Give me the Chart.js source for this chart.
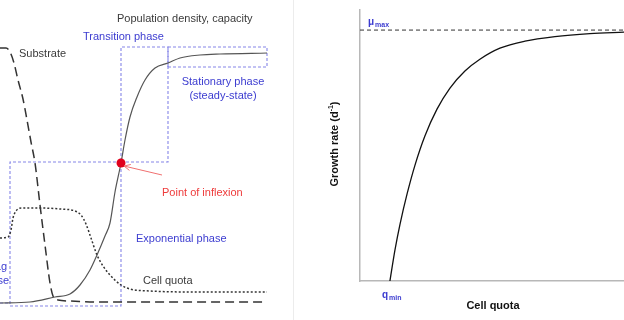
<!DOCTYPE html>
<html>
<head>
<meta charset="utf-8">
<script src="https://cdn.jsdelivr.net/npm/chart.js@4.4.1/dist/chart.umd.min.js"></script>
<style>
  html, body { margin: 0; padding: 0; background: #fff; }
  #wrap { position: relative; width: 624px; height: 320px; overflow: hidden; }
  #growthCanvas { position: absolute; left: 0; top: 0; }
  #divider { position: absolute; left: 293px; top: 0; width: 1px; height: 320px; background: #ececec; }
  #droopCanvas { position: absolute; left: 294px; top: 0; }
</style>
</head>
<body>
<div id="wrap">
  <canvas id="growthCanvas" width="293" height="320"></canvas>
  <div id="divider"></div>
  <canvas id="droopCanvas" width="330" height="320"></canvas>
</div>
<script>
// left panel: batch culture, time vs relative level
const popTime   = [0, 30, 55, 70, 80, 90, 97, 105, 110, 115, 121, 125, 130, 137, 145, 155, 168, 180, 200, 220, 267];
const popLevel  = [17, 18, 23, 26, 35, 50, 65, 84, 97, 128, 157, 180, 203, 223, 240, 252, 257, 262, 265, 266, 267];
const subTime   = [0, 6, 10, 14, 18, 23, 27, 31, 35, 40, 45, 50, 53, 58, 70, 100, 267];
const subLevel  = [272, 272, 268, 257, 240, 221, 200, 178, 157, 115, 75, 37, 24, 20, 19, 18, 18];
const quotaTime = [0, 8, 11, 13, 16, 22, 40, 60, 75, 81, 86, 91, 97, 103, 110, 121, 130, 150, 200, 267];
const quotaLevel = [82, 83, 90, 102, 109, 112, 112, 111, 109, 105, 96, 82, 65, 54, 45, 35, 31, 29, 28, 28];

// phase boxes (time range, level range)
const lagBox = { t: [-40, 10], v: [17, 17] };
const expBox = { t: [10, 121], v: [14, 158] };
const transBox = { t: [121, 168], v: [158, 273] };
const statBox = { t: [168, 267], v: [253, 273] };
const inflexion = { t: 121, v: 157 };

// right panel: Droop curve
const cellQuota  = [1.36, 1.59, 1.82, 2.14, 2.5, 2.95, 3.5, 4.09, 4.77, 5.45, 6.36, 7.5, 8.86, 10.45, 12.0];
const growthRate = [0, 0.124, 0.227, 0.347, 0.462, 0.578, 0.685, 0.769, 0.837, 0.884, 0.928, 0.956, 0.974, 0.986, 0.992];
const muMax = 1;
const qMin = 1.36;

const FONT = '"Liberation Sans", Arial, sans-serif';
const DARK = '#3a3a3a';
const BLUE = '#3c3cd0';
const BOX = '#8585e8';
const RED = '#ee3b3b';

function toXY(xs, ys) {
    return xs.map((x, i) => ({ x: x, y: ys[i] }));
}

function rect(b) {
    return toXY([b.t[0], b.t[1], b.t[1], b.t[0], b.t[0]], [b.v[0], b.v[0], b.v[1], b.v[1], b.v[0]]);
}

function boxSet(data) {
    return { data: data, showLine: true, borderColor: BOX, borderWidth: 1.1, borderDash: [3, 2], pointRadius: 0, tension: 0 };
}

const growthLabels = {
    id: 'growthLabels',
    afterDatasetsDraw(chart) {
        const { ctx, scales: { x, y } } = chart;
        const px = t => x.getPixelForValue(t);
        const py = v => y.getPixelForValue(v);
        ctx.save();
        ctx.font = '11px ' + FONT;
        ctx.textBaseline = 'middle';
        const put = (txt, t, v, color, align) => {
            ctx.fillStyle = color;
            ctx.textAlign = align || 'left';
            ctx.fillText(txt, px(t), py(v));
        };
        put('Population density, capacity', 117, 301, DARK);
        put('Transition phase', 83, 283, BLUE);
        put('Substrate', 19, 266, DARK);
        put('Stationary phase', 223, 238, BLUE, 'center');
        put('(steady-state)', 223, 224, BLUE, 'center');
        put('Point of inflexion', 162, 127, RED);
        put('Exponential phase', 136, 81, BLUE);
        put('Cell quota', 143, 39, DARK);
        put('Lag', 7, 53, BLUE, 'right');
        put('phase', 9, 39, BLUE, 'right');

        // arrow to the inflexion point
        const x0 = px(162), y0 = py(145), x1 = px(124), y1 = py(154);
        const a = Math.atan2(y1 - y0, x1 - x0);
        ctx.strokeStyle = '#f07070';
        ctx.lineWidth = 1;
        ctx.beginPath();
        ctx.moveTo(x0, y0);
        ctx.lineTo(x1, y1);
        ctx.moveTo(x1 - 7 * Math.cos(a - 0.45), y1 - 7 * Math.sin(a - 0.45));
        ctx.lineTo(x1, y1);
        ctx.lineTo(x1 - 7 * Math.cos(a + 0.45), y1 - 7 * Math.sin(a + 0.45));
        ctx.stroke();
        ctx.restore();
    }
};

new Chart(document.getElementById('growthCanvas'), {
    type: 'scatter',
    data: {
        datasets: [
            { data: [{ x: inflexion.t, y: inflexion.v }], pointRadius: 4.5, pointBackgroundColor: '#e0001c', pointBorderWidth: 0 },
            { data: toXY(popTime, popLevel), showLine: true, borderColor: '#555', borderWidth: 1.2, pointRadius: 0, cubicInterpolationMode: 'monotone' },
            { data: toXY(subTime, subLevel), showLine: true, borderColor: '#333', borderWidth: 1.5, borderDash: [9, 5], pointRadius: 0, cubicInterpolationMode: 'monotone' },
            { data: toXY(quotaTime, quotaLevel), showLine: true, borderColor: '#333', borderWidth: 1.5, borderDash: [2, 2], pointRadius: 0, cubicInterpolationMode: 'monotone' },
            boxSet(toXY(lagBox.t, lagBox.v)),
            boxSet(rect(expBox)),
            boxSet(rect(transBox)),
            boxSet(rect(statBox))
        ]
    },
    options: {
        responsive: false,
        animation: false,
        devicePixelRatio: 1,
        layout: { padding: 0, autoPadding: false },
        plugins: { legend: { display: false }, tooltip: { enabled: false } },
        scales: {
            x: { type: 'linear', min: 0, max: 293, display: false },
            y: { type: 'linear', min: 0, max: 320, display: false }
        }
    },
    plugins: [growthLabels]
});

const droopLabels = {
    id: 'droopLabels',
    afterDraw(chart) {
        const { ctx, chartArea, scales: { x, y } } = chart;
        ctx.save();
        ctx.textBaseline = 'middle';
        ctx.textAlign = 'left';

        // mu max
        ctx.fillStyle = BLUE;
        ctx.font = 'bold 10px ' + FONT;
        let lx = chartArea.left + 8, ly = y.getPixelForValue(muMax) - 8;
        ctx.fillText('μ', lx, ly);
        lx += ctx.measureText('μ').width + 1;
        ctx.font = 'bold 7px ' + FONT;
        ctx.fillText('max', lx, ly + 3);

        // q min
        ctx.font = 'bold 10px ' + FONT;
        lx = x.getPixelForValue(qMin) - 8;
        ly = chartArea.bottom + 14;
        ctx.fillText('q', lx, ly);
        lx += ctx.measureText('q').width + 1;
        ctx.font = 'bold 7px ' + FONT;
        ctx.fillText('min', lx, ly + 3);

        // axis titles
        ctx.fillStyle = '#111';
        ctx.font = 'bold 11px ' + FONT;
        ctx.textAlign = 'center';
        ctx.fillText('Cell quota', 199, chartArea.bottom + 25);

        ctx.translate(41, 144);
        ctx.rotate(-Math.PI / 2);
        ctx.textAlign = 'left';
        const parts = [['Growth rate (d', 11, 0], ['-1', 7, -4], [')', 11, 0]];
        let w = 0;
        parts.forEach(p => { ctx.font = 'bold ' + p[1] + 'px ' + FONT; w += ctx.measureText(p[0]).width; });
        let cx = -w / 2;
        parts.forEach(p => {
            ctx.font = 'bold ' + p[1] + 'px ' + FONT;
            ctx.fillText(p[0], cx, p[2]);
            cx += ctx.measureText(p[0]).width;
        });
        ctx.restore();
    }
};

const axisStyle = {
    ticks: { display: false },
    grid: { display: false, drawTicks: false },
    border: { display: true, color: '#b8b8b8', width: 1.5 }
};

new Chart(document.getElementById('droopCanvas'), {
    type: 'scatter',
    data: {
        datasets: [
            { data: toXY(cellQuota, growthRate), showLine: true, borderColor: '#111', borderWidth: 1.3, pointRadius: 0, cubicInterpolationMode: 'monotone' },
            { data: toXY([0, 12], [muMax, muMax]), showLine: true, borderColor: '#333', borderWidth: 1, borderDash: [4, 3], pointRadius: 0 }
        ]
    },
    options: {
        responsive: false,
        animation: false,
        devicePixelRatio: 1,
        layout: { padding: { left: 66, top: 10, right: 0, bottom: 39 }, autoPadding: false },
        plugins: { legend: { display: false }, tooltip: { enabled: false } },
        scales: {
            x: Object.assign({ type: 'linear', min: 0, max: 12 }, axisStyle),
            y: Object.assign({ type: 'linear', min: 0, max: 1.08 }, axisStyle)
        }
    },
    plugins: [droopLabels]
});
</script>
</body>
</html>
